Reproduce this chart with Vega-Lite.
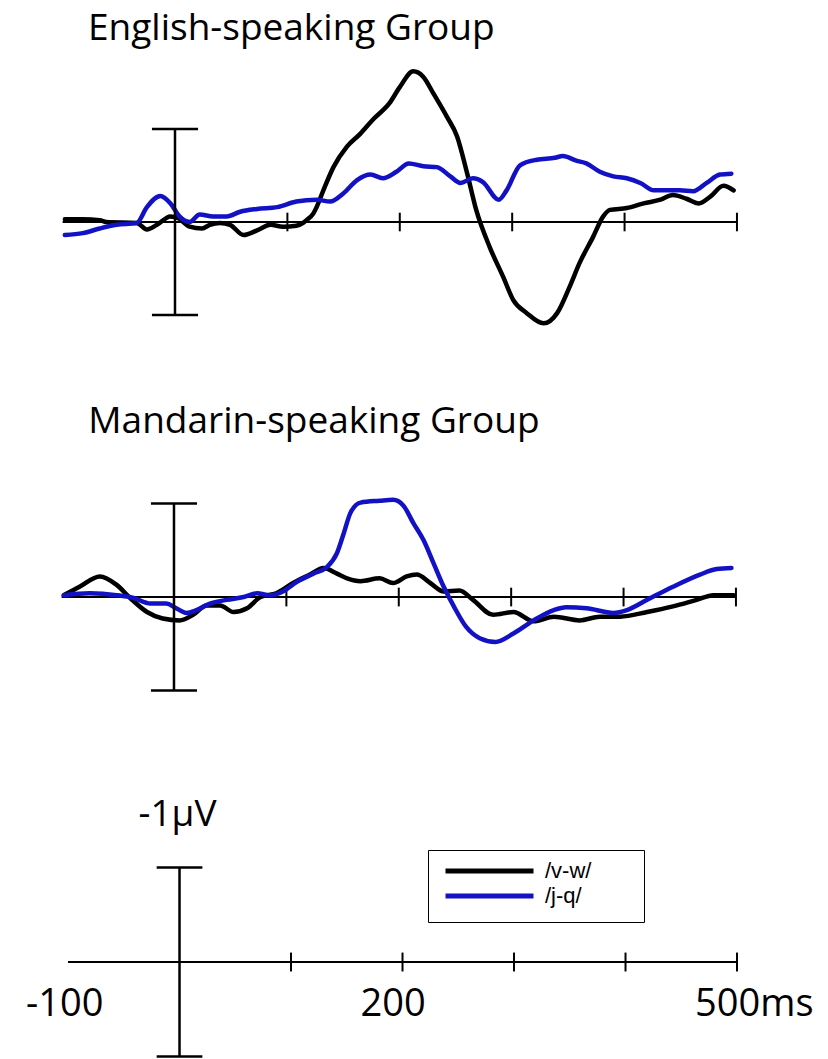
{
  "$schema": "https://vega.github.io/schema/vega-lite/v6.json",
  "padding": 0,
  "spacing": 0,
  "bounds": "flush",
  "background": "white",
  "config": {"view": {"stroke": null}},
  "datasets": {
    "erp": [
      {"p":"E","c":"/v-w/","t":-98,"v":-0.03},{"p":"E","c":"/v-w/","t":-82,"v":-0.03},{"p":"E","c":"/v-w/","t":-67,"v":-0.02},{"p":"E","c":"/v-w/","t":-61,"v":0.0},{"p":"E","c":"/v-w/","t":-34,"v":0.01},{"p":"E","c":"/v-w/","t":-25,"v":0.08},{"p":"E","c":"/v-w/","t":-16,"v":0.03},{"p":"E","c":"/v-w/","t":-4,"v":-0.06},{"p":"E","c":"/v-w/","t":3,"v":-0.04},{"p":"E","c":"/v-w/","t":13,"v":0.05},{"p":"E","c":"/v-w/","t":24,"v":0.07},{"p":"E","c":"/v-w/","t":31,"v":0.03},{"p":"E","c":"/v-w/","t":40,"v":0.01},{"p":"E","c":"/v-w/","t":49,"v":0.03},{"p":"E","c":"/v-w/","t":61,"v":0.14},{"p":"E","c":"/v-w/","t":73,"v":0.09},{"p":"E","c":"/v-w/","t":85,"v":0.03},{"p":"E","c":"/v-w/","t":96,"v":0.05},{"p":"E","c":"/v-w/","t":108,"v":0.04},{"p":"E","c":"/v-w/","t":114,"v":0.01},{"p":"E","c":"/v-w/","t":117,"v":-0.02},{"p":"E","c":"/v-w/","t":123,"v":-0.09},{"p":"E","c":"/v-w/","t":126,"v":-0.16},{"p":"E","c":"/v-w/","t":132,"v":-0.34},{"p":"E","c":"/v-w/","t":141,"v":-0.59},{"p":"E","c":"/v-w/","t":153,"v":-0.81},{"p":"E","c":"/v-w/","t":165,"v":-0.95},{"p":"E","c":"/v-w/","t":176,"v":-1.10},{"p":"E","c":"/v-w/","t":191,"v":-1.28},{"p":"E","c":"/v-w/","t":200,"v":-1.45},{"p":"E","c":"/v-w/","t":212,"v":-1.62},{"p":"E","c":"/v-w/","t":221,"v":-1.56},{"p":"E","c":"/v-w/","t":230,"v":-1.38},{"p":"E","c":"/v-w/","t":242,"v":-1.13},{"p":"E","c":"/v-w/","t":251,"v":-0.92},{"p":"E","c":"/v-w/","t":260,"v":-0.52},{"p":"E","c":"/v-w/","t":268,"v":-0.13},{"p":"E","c":"/v-w/","t":280,"v":0.27},{"p":"E","c":"/v-w/","t":292,"v":0.59},{"p":"E","c":"/v-w/","t":301,"v":0.84},{"p":"E","c":"/v-w/","t":313,"v":0.98},{"p":"E","c":"/v-w/","t":328,"v":1.09},{"p":"E","c":"/v-w/","t":340,"v":0.98},{"p":"E","c":"/v-w/","t":351,"v":0.70},{"p":"E","c":"/v-w/","t":360,"v":0.44},{"p":"E","c":"/v-w/","t":372,"v":0.16},{"p":"E","c":"/v-w/","t":381,"v":-0.06},{"p":"E","c":"/v-w/","t":387,"v":-0.13},{"p":"E","c":"/v-w/","t":402,"v":-0.15},{"p":"E","c":"/v-w/","t":417,"v":-0.20},{"p":"E","c":"/v-w/","t":432,"v":-0.24},{"p":"E","c":"/v-w/","t":443,"v":-0.29},{"p":"E","c":"/v-w/","t":455,"v":-0.25},{"p":"E","c":"/v-w/","t":466,"v":-0.20},{"p":"E","c":"/v-w/","t":476,"v":-0.27},{"p":"E","c":"/v-w/","t":488,"v":-0.39},{"p":"E","c":"/v-w/","t":497,"v":-0.34},
      {"p":"E","c":"/j-q/","t":-98,"v":0.14},{"p":"E","c":"/j-q/","t":-82,"v":0.12},{"p":"E","c":"/j-q/","t":-67,"v":0.07},{"p":"E","c":"/j-q/","t":-52,"v":0.03},{"p":"E","c":"/j-q/","t":-34,"v":0.01},{"p":"E","c":"/j-q/","t":-25,"v":-0.16},{"p":"E","c":"/j-q/","t":-13,"v":-0.28},{"p":"E","c":"/j-q/","t":-4,"v":-0.20},{"p":"E","c":"/j-q/","t":4,"v":-0.06},{"p":"E","c":"/j-q/","t":13,"v":0.0},{"p":"E","c":"/j-q/","t":22,"v":-0.08},{"p":"E","c":"/j-q/","t":34,"v":-0.06},{"p":"E","c":"/j-q/","t":46,"v":-0.06},{"p":"E","c":"/j-q/","t":58,"v":-0.11},{"p":"E","c":"/j-q/","t":73,"v":-0.14},{"p":"E","c":"/j-q/","t":91,"v":-0.16},{"p":"E","c":"/j-q/","t":108,"v":-0.22},{"p":"E","c":"/j-q/","t":126,"v":-0.24},{"p":"E","c":"/j-q/","t":138,"v":-0.22},{"p":"E","c":"/j-q/","t":150,"v":-0.31},{"p":"E","c":"/j-q/","t":162,"v":-0.45},{"p":"E","c":"/j-q/","t":174,"v":-0.51},{"p":"E","c":"/j-q/","t":185,"v":-0.47},{"p":"E","c":"/j-q/","t":197,"v":-0.54},{"p":"E","c":"/j-q/","t":208,"v":-0.63},{"p":"E","c":"/j-q/","t":221,"v":-0.60},{"p":"E","c":"/j-q/","t":233,"v":-0.59},{"p":"E","c":"/j-q/","t":245,"v":-0.49},{"p":"E","c":"/j-q/","t":254,"v":-0.42},{"p":"E","c":"/j-q/","t":265,"v":-0.47},{"p":"E","c":"/j-q/","t":274,"v":-0.43},{"p":"E","c":"/j-q/","t":288,"v":-0.24},{"p":"E","c":"/j-q/","t":295,"v":-0.34},{"p":"E","c":"/j-q/","t":307,"v":-0.61},{"p":"E","c":"/j-q/","t":322,"v":-0.67},{"p":"E","c":"/j-q/","t":338,"v":-0.69},{"p":"E","c":"/j-q/","t":345,"v":-0.71},{"p":"E","c":"/j-q/","t":357,"v":-0.66},{"p":"E","c":"/j-q/","t":366,"v":-0.63},{"p":"E","c":"/j-q/","t":378,"v":-0.54},{"p":"E","c":"/j-q/","t":390,"v":-0.49},{"p":"E","c":"/j-q/","t":402,"v":-0.47},{"p":"E","c":"/j-q/","t":414,"v":-0.42},{"p":"E","c":"/j-q/","t":426,"v":-0.34},{"p":"E","c":"/j-q/","t":438,"v":-0.34},{"p":"E","c":"/j-q/","t":449,"v":-0.34},{"p":"E","c":"/j-q/","t":461,"v":-0.33},{"p":"E","c":"/j-q/","t":473,"v":-0.42},{"p":"E","c":"/j-q/","t":485,"v":-0.51},{"p":"E","c":"/j-q/","t":495,"v":-0.52},
      {"p":"M","c":"/v-w/","t":-98,"v":-0.02},{"p":"M","c":"/v-w/","t":-84,"v":-0.11},{"p":"M","c":"/v-w/","t":-66,"v":-0.22},{"p":"M","c":"/v-w/","t":-51,"v":-0.13},{"p":"M","c":"/v-w/","t":-39,"v":0.01},{"p":"M","c":"/v-w/","t":-24,"v":0.16},{"p":"M","c":"/v-w/","t":-10,"v":0.23},{"p":"M","c":"/v-w/","t":5,"v":0.25},{"p":"M","c":"/v-w/","t":17,"v":0.19},{"p":"M","c":"/v-w/","t":29,"v":0.09},{"p":"M","c":"/v-w/","t":41,"v":0.09},{"p":"M","c":"/v-w/","t":53,"v":0.16},{"p":"M","c":"/v-w/","t":65,"v":0.12},{"p":"M","c":"/v-w/","t":77,"v":0.0},{"p":"M","c":"/v-w/","t":91,"v":-0.04},{"p":"M","c":"/v-w/","t":106,"v":-0.15},{"p":"M","c":"/v-w/","t":121,"v":-0.24},{"p":"M","c":"/v-w/","t":133,"v":-0.31},{"p":"M","c":"/v-w/","t":145,"v":-0.25},{"p":"M","c":"/v-w/","t":154,"v":-0.20},{"p":"M","c":"/v-w/","t":166,"v":-0.17},{"p":"M","c":"/v-w/","t":183,"v":-0.20},{"p":"M","c":"/v-w/","t":195,"v":-0.15},{"p":"M","c":"/v-w/","t":207,"v":-0.22},{"p":"M","c":"/v-w/","t":216,"v":-0.24},{"p":"M","c":"/v-w/","t":228,"v":-0.15},{"p":"M","c":"/v-w/","t":240,"v":-0.06},{"p":"M","c":"/v-w/","t":254,"v":-0.07},{"p":"M","c":"/v-w/","t":266,"v":0.03},{"p":"M","c":"/v-w/","t":284,"v":0.19},{"p":"M","c":"/v-w/","t":302,"v":0.16},{"p":"M","c":"/v-w/","t":320,"v":0.26},{"p":"M","c":"/v-w/","t":338,"v":0.21},{"p":"M","c":"/v-w/","t":361,"v":0.25},{"p":"M","c":"/v-w/","t":379,"v":0.21},{"p":"M","c":"/v-w/","t":397,"v":0.21},{"p":"M","c":"/v-w/","t":421,"v":0.16},{"p":"M","c":"/v-w/","t":444,"v":0.10},{"p":"M","c":"/v-w/","t":465,"v":0.03},{"p":"M","c":"/v-w/","t":480,"v":-0.02},{"p":"M","c":"/v-w/","t":498,"v":-0.02},
      {"p":"M","c":"/j-q/","t":-98,"v":-0.02},{"p":"M","c":"/j-q/","t":-75,"v":-0.04},{"p":"M","c":"/j-q/","t":-51,"v":-0.02},{"p":"M","c":"/j-q/","t":-36,"v":0.01},{"p":"M","c":"/j-q/","t":-21,"v":0.07},{"p":"M","c":"/j-q/","t":-7,"v":0.07},{"p":"M","c":"/j-q/","t":2,"v":0.12},{"p":"M","c":"/j-q/","t":11,"v":0.17},{"p":"M","c":"/j-q/","t":20,"v":0.14},{"p":"M","c":"/j-q/","t":32,"v":0.07},{"p":"M","c":"/j-q/","t":47,"v":0.03},{"p":"M","c":"/j-q/","t":62,"v":0.0},{"p":"M","c":"/j-q/","t":74,"v":-0.04},{"p":"M","c":"/j-q/","t":85,"v":-0.02},{"p":"M","c":"/j-q/","t":97,"v":-0.06},{"p":"M","c":"/j-q/","t":109,"v":-0.16},{"p":"M","c":"/j-q/","t":124,"v":-0.25},{"p":"M","c":"/j-q/","t":136,"v":-0.32},{"p":"M","c":"/j-q/","t":145,"v":-0.47},{"p":"M","c":"/j-q/","t":151,"v":-0.68},{"p":"M","c":"/j-q/","t":157,"v":-0.90},{"p":"M","c":"/j-q/","t":166,"v":-1.01},{"p":"M","c":"/j-q/","t":183,"v":-1.03},{"p":"M","c":"/j-q/","t":195,"v":-1.04},{"p":"M","c":"/j-q/","t":204,"v":-0.98},{"p":"M","c":"/j-q/","t":213,"v":-0.79},{"p":"M","c":"/j-q/","t":222,"v":-0.61},{"p":"M","c":"/j-q/","t":231,"v":-0.36},{"p":"M","c":"/j-q/","t":240,"v":-0.11},{"p":"M","c":"/j-q/","t":249,"v":0.10},{"p":"M","c":"/j-q/","t":260,"v":0.32},{"p":"M","c":"/j-q/","t":272,"v":0.44},{"p":"M","c":"/j-q/","t":286,"v":0.48},{"p":"M","c":"/j-q/","t":302,"v":0.39},{"p":"M","c":"/j-q/","t":320,"v":0.25},{"p":"M","c":"/j-q/","t":338,"v":0.14},{"p":"M","c":"/j-q/","t":349,"v":0.11},{"p":"M","c":"/j-q/","t":367,"v":0.12},{"p":"M","c":"/j-q/","t":391,"v":0.17},{"p":"M","c":"/j-q/","t":403,"v":0.14},{"p":"M","c":"/j-q/","t":421,"v":0.03},{"p":"M","c":"/j-q/","t":444,"v":-0.11},{"p":"M","c":"/j-q/","t":468,"v":-0.24},{"p":"M","c":"/j-q/","t":483,"v":-0.30},{"p":"M","c":"/j-q/","t":496,"v":-0.31}
    ],
    "axisline": [{"a": -100, "b": 500}],
    "ticks": [{"t": 100}, {"t": 200}, {"t": 300}, {"t": 400}, {"t": 500}],
    "bar": [{"t": 0, "lo": -1, "hi": 1}],
    "caps": [{"a": -20.5, "b": 20.5, "y": -1}, {"a": -20.5, "b": 20.5, "y": 1}],
    "ticklabels": [{"t": -100, "label": "-100"}, {"t": 200, "label": "200"}, {"t": 500, "label": "500ms"}]
  },
  "resolve": {"scale": {"x": "independent", "y": "independent", "color": "shared"}},
  "vconcat": [
    {
      "width": 828,
      "height": 380,
      "layer": [
        {
          "data": {"name": "axisline"},
          "mark": {"type": "rule", "color": "#000000", "strokeWidth": 2},
          "encoding": {
            "x": {"field": "a", "type": "quantitative", "scale": {"domain": [-155.7, 581.0], "nice": false, "zero": false}, "axis": null},
            "x2": {"field": "b"},
            "y": {"datum": 0, "type": "quantitative", "scale": {"domain": [-2.387, 1.699], "nice": false, "zero": false, "reverse": true}, "axis": null}
          }
        },
        {
          "data": {"name": "ticks"},
          "mark": {"type": "rule", "color": "#000000", "strokeWidth": 2},
          "encoding": {"x": {"field": "t", "type": "quantitative"}, "y": {"datum": -0.1}, "y2": {"datum": 0.1}}
        },
        {
          "data": {"name": "erp"},
          "transform": [{"filter": "datum.p == 'E'"}],
          "mark": {"type": "line", "strokeWidth": 4.5, "interpolate": "monotone", "strokeCap": "round", "strokeJoin": "round"},
          "encoding": {
            "x": {"field": "t", "type": "quantitative"},
            "y": {"field": "v", "type": "quantitative"},
            "color": {
              "field": "c", "type": "nominal",
              "scale": {"domain": ["/v-w/", "/j-q/"], "range": ["#000000", "#1212c4"]},
              "legend": {
                "orient": "none", "legendX": 428, "legendY": 850,
                "title": "\u00a0", "titleOrient": "right", "titlePadding": 38, "titleFontSize": 10,
                "symbolType": "stroke", "symbolSize": 7744, "symbolStrokeWidth": 5,
                "clipHeight": 12, "rowPadding": 3, "padding": 15,
                "strokeColor": "#000000",
                "labelFont": "Liberation Sans", "labelFontSize": 22, "labelColor": "#000000", "labelOffset": 9
              }
            }
          }
        },
        {
          "data": {"name": "bar"},
          "mark": {"type": "rule", "color": "#000000", "strokeWidth": 2.5},
          "encoding": {"x": {"field": "t", "type": "quantitative"}, "y": {"field": "lo", "type": "quantitative"}, "y2": {"field": "hi"}}
        },
        {
          "data": {"name": "caps"},
          "mark": {"type": "rule", "color": "#000000", "strokeWidth": 2.5},
          "encoding": {"x": {"field": "a", "type": "quantitative"}, "x2": {"field": "b"}, "y": {"field": "y", "type": "quantitative"}}
        },
        {
          "data": {"values": [{"label": "English-speaking Group"}]},
          "mark": {"type": "text", "align": "left", "baseline": "alphabetic", "font": "Open Sans", "fontSize": 37, "color": "#000000"},
          "encoding": {"text": {"field": "label"}, "x": {"datum": -77.4}, "y": {"datum": -1.955}}
        }
      ]
    },
    {
      "width": 828,
      "height": 360,
      "layer": [
        {
          "data": {"name": "axisline"},
          "mark": {"type": "rule", "color": "#000000", "strokeWidth": 2},
          "encoding": {
            "x": {"field": "a", "type": "quantitative", "scale": {"domain": [-154.8, 581.9], "nice": false, "zero": false}, "axis": null},
            "x2": {"field": "b"},
            "y": {"datum": 0, "type": "quantitative", "scale": {"domain": [-2.321, 1.529], "nice": false, "zero": false, "reverse": true}, "axis": null}
          }
        },
        {
          "data": {"name": "ticks"},
          "mark": {"type": "rule", "color": "#000000", "strokeWidth": 2},
          "encoding": {"x": {"field": "t", "type": "quantitative"}, "y": {"datum": -0.1}, "y2": {"datum": 0.1}}
        },
        {
          "data": {"name": "erp"},
          "transform": [{"filter": "datum.p == 'M'"}],
          "mark": {"type": "line", "strokeWidth": 4.5, "interpolate": "monotone", "strokeCap": "round", "strokeJoin": "round"},
          "encoding": {
            "x": {"field": "t", "type": "quantitative"},
            "y": {"field": "v", "type": "quantitative"},
            "color": {"field": "c", "type": "nominal"}
          }
        },
        {
          "data": {"name": "bar"},
          "mark": {"type": "rule", "color": "#000000", "strokeWidth": 2.5},
          "encoding": {"x": {"field": "t", "type": "quantitative"}, "y": {"field": "lo", "type": "quantitative"}, "y2": {"field": "hi"}}
        },
        {
          "data": {"name": "caps"},
          "mark": {"type": "rule", "color": "#000000", "strokeWidth": 2.5},
          "encoding": {"x": {"field": "a", "type": "quantitative"}, "x2": {"field": "b"}, "y": {"field": "y", "type": "quantitative"}}
        },
        {
          "data": {"values": [{"label": "Mandarin-speaking Group"}]},
          "mark": {"type": "text", "align": "left", "baseline": "alphabetic", "font": "Open Sans", "fontSize": 37, "color": "#000000"},
          "encoding": {"text": {"field": "label"}, "x": {"datum": -76.2}, "y": {"datum": -1.757}}
        }
      ]
    },
    {
      "width": 828,
      "height": 319,
      "layer": [
        {
          "data": {"name": "axisline"},
          "mark": {"type": "rule", "color": "#000000", "strokeWidth": 2},
          "encoding": {
            "x": {"field": "a", "type": "quantitative", "scale": {"domain": [-161.0, 581.6], "nice": false, "zero": false}, "axis": null},
            "x2": {"field": "b"},
            "y": {"datum": 0, "type": "quantitative", "scale": {"domain": [-2.349, 1.026], "nice": false, "zero": false, "reverse": true}, "axis": null}
          }
        },
        {
          "data": {"name": "ticks"},
          "mark": {"type": "rule", "color": "#000000", "strokeWidth": 2},
          "encoding": {"x": {"field": "t", "type": "quantitative"}, "y": {"datum": -0.1}, "y2": {"datum": 0.1}}
        },
        {
          "data": {"name": "bar"},
          "mark": {"type": "rule", "color": "#000000", "strokeWidth": 2.5},
          "encoding": {"x": {"field": "t", "type": "quantitative"}, "y": {"field": "lo", "type": "quantitative"}, "y2": {"field": "hi"}}
        },
        {
          "data": {"name": "caps"},
          "mark": {"type": "rule", "color": "#000000", "strokeWidth": 2.5},
          "encoding": {"x": {"field": "a", "type": "quantitative"}, "x2": {"field": "b"}, "y": {"field": "y", "type": "quantitative"}}
        },
        {
          "data": {"values": [{"label": "-1μV"}]},
          "mark": {"type": "text", "align": "center", "baseline": "alphabetic", "font": "Open Sans", "fontSize": 37, "color": "#000000", "dx": -2},
          "encoding": {"text": {"field": "label"}, "x": {"datum": 0}, "y": {"datum": -1.44}}
        },
        {
          "data": {"name": "ticklabels"},
          "mark": {"type": "text", "align": "left", "baseline": "alphabetic", "font": "Open Sans", "fontSize": 38, "color": "#000000", "dx": -42},
          "encoding": {"text": {"field": "label"}, "x": {"field": "t", "type": "quantitative"}, "y": {"datum": 0.571}}
        }
      ]
    }
  ]
}
